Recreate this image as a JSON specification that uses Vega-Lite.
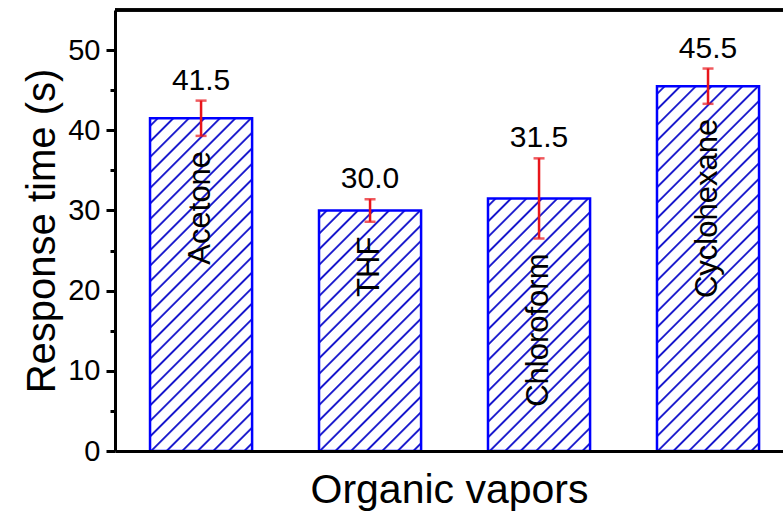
{
  "$schema": "https://vega.github.io/schema/vega-lite/v6.json",
  "width": 668,
  "height": 441,
  "autosize": {"type": "none"},
  "padding": {"left": 115, "top": 10, "right": 0, "bottom": 62},
  "background": "white",
  "config": {
    "view": {"stroke": null},
    "font": "Liberation Sans",
    "axis": {
      "labelFont": "Liberation Sans",
      "titleFont": "Liberation Sans",
      "labelColor": "black",
      "titleColor": "black",
      "titleFontWeight": "normal",
      "domainColor": "black",
      "tickColor": "black",
      "grid": false
    }
  },
  "data": {
    "values": [
      {"vapor": "Acetone", "time": 41.5, "lo": 39.3, "hi": 43.7},
      {"vapor": "THF", "time": 30.0, "lo": 28.6, "hi": 31.4},
      {"vapor": "Chloroform", "time": 31.5, "lo": 26.5, "hi": 36.5},
      {"vapor": "Cyclohexane", "time": 45.5, "lo": 43.3, "hi": 47.7}
    ]
  },
  "layer": [
    {
      "transform": [{"filter": "datum.vapor === 'Acetone'"}],
      "mark": {
        "type": "bar",
        "stroke": "#0000ff",
        "strokeWidth": 2.5,
        "fill": {
          "gradient": "linear", "x1": 0, "y1": 0, "x2": 0.3661, "y2": 1.1943,
          "stops": [
            {"offset": 0.0130, "color": "#fff"}, {"offset": 0.0166, "color": "#1616cc"}, {"offset": 0.0192, "color": "#1616cc"}, {"offset": 0.0228, "color": "#fff"},
            {"offset": 0.0487, "color": "#fff"}, {"offset": 0.0523, "color": "#1616cc"}, {"offset": 0.0549, "color": "#1616cc"}, {"offset": 0.0585, "color": "#fff"},
            {"offset": 0.0844, "color": "#fff"}, {"offset": 0.0880, "color": "#1616cc"}, {"offset": 0.0906, "color": "#1616cc"}, {"offset": 0.0942, "color": "#fff"},
            {"offset": 0.1201, "color": "#fff"}, {"offset": 0.1237, "color": "#1616cc"}, {"offset": 0.1263, "color": "#1616cc"}, {"offset": 0.1299, "color": "#fff"},
            {"offset": 0.1558, "color": "#fff"}, {"offset": 0.1594, "color": "#1616cc"}, {"offset": 0.1620, "color": "#1616cc"}, {"offset": 0.1656, "color": "#fff"},
            {"offset": 0.1915, "color": "#fff"}, {"offset": 0.1951, "color": "#1616cc"}, {"offset": 0.1977, "color": "#1616cc"}, {"offset": 0.2013, "color": "#fff"},
            {"offset": 0.2272, "color": "#fff"}, {"offset": 0.2308, "color": "#1616cc"}, {"offset": 0.2334, "color": "#1616cc"}, {"offset": 0.2370, "color": "#fff"},
            {"offset": 0.2630, "color": "#fff"}, {"offset": 0.2666, "color": "#1616cc"}, {"offset": 0.2692, "color": "#1616cc"}, {"offset": 0.2728, "color": "#fff"},
            {"offset": 0.2987, "color": "#fff"}, {"offset": 0.3023, "color": "#1616cc"}, {"offset": 0.3049, "color": "#1616cc"}, {"offset": 0.3085, "color": "#fff"},
            {"offset": 0.3344, "color": "#fff"}, {"offset": 0.3380, "color": "#1616cc"}, {"offset": 0.3406, "color": "#1616cc"}, {"offset": 0.3442, "color": "#fff"},
            {"offset": 0.3701, "color": "#fff"}, {"offset": 0.3737, "color": "#1616cc"}, {"offset": 0.3763, "color": "#1616cc"}, {"offset": 0.3799, "color": "#fff"},
            {"offset": 0.4058, "color": "#fff"}, {"offset": 0.4094, "color": "#1616cc"}, {"offset": 0.4120, "color": "#1616cc"}, {"offset": 0.4156, "color": "#fff"},
            {"offset": 0.4415, "color": "#fff"}, {"offset": 0.4451, "color": "#1616cc"}, {"offset": 0.4477, "color": "#1616cc"}, {"offset": 0.4513, "color": "#fff"},
            {"offset": 0.4772, "color": "#fff"}, {"offset": 0.4808, "color": "#1616cc"}, {"offset": 0.4834, "color": "#1616cc"}, {"offset": 0.4870, "color": "#fff"},
            {"offset": 0.5130, "color": "#fff"}, {"offset": 0.5166, "color": "#1616cc"}, {"offset": 0.5192, "color": "#1616cc"}, {"offset": 0.5228, "color": "#fff"},
            {"offset": 0.5487, "color": "#fff"}, {"offset": 0.5523, "color": "#1616cc"}, {"offset": 0.5549, "color": "#1616cc"}, {"offset": 0.5585, "color": "#fff"},
            {"offset": 0.5844, "color": "#fff"}, {"offset": 0.5880, "color": "#1616cc"}, {"offset": 0.5906, "color": "#1616cc"}, {"offset": 0.5942, "color": "#fff"},
            {"offset": 0.6201, "color": "#fff"}, {"offset": 0.6237, "color": "#1616cc"}, {"offset": 0.6263, "color": "#1616cc"}, {"offset": 0.6299, "color": "#fff"},
            {"offset": 0.6558, "color": "#fff"}, {"offset": 0.6594, "color": "#1616cc"}, {"offset": 0.6620, "color": "#1616cc"}, {"offset": 0.6656, "color": "#fff"},
            {"offset": 0.6915, "color": "#fff"}, {"offset": 0.6951, "color": "#1616cc"}, {"offset": 0.6977, "color": "#1616cc"}, {"offset": 0.7013, "color": "#fff"},
            {"offset": 0.7272, "color": "#fff"}, {"offset": 0.7308, "color": "#1616cc"}, {"offset": 0.7334, "color": "#1616cc"}, {"offset": 0.7370, "color": "#fff"},
            {"offset": 0.7630, "color": "#fff"}, {"offset": 0.7666, "color": "#1616cc"}, {"offset": 0.7692, "color": "#1616cc"}, {"offset": 0.7728, "color": "#fff"},
            {"offset": 0.7987, "color": "#fff"}, {"offset": 0.8023, "color": "#1616cc"}, {"offset": 0.8049, "color": "#1616cc"}, {"offset": 0.8085, "color": "#fff"},
            {"offset": 0.8344, "color": "#fff"}, {"offset": 0.8380, "color": "#1616cc"}, {"offset": 0.8406, "color": "#1616cc"}, {"offset": 0.8442, "color": "#fff"},
            {"offset": 0.8701, "color": "#fff"}, {"offset": 0.8737, "color": "#1616cc"}, {"offset": 0.8763, "color": "#1616cc"}, {"offset": 0.8799, "color": "#fff"},
            {"offset": 0.9058, "color": "#fff"}, {"offset": 0.9094, "color": "#1616cc"}, {"offset": 0.9120, "color": "#1616cc"}, {"offset": 0.9156, "color": "#fff"},
            {"offset": 0.9415, "color": "#fff"}, {"offset": 0.9451, "color": "#1616cc"}, {"offset": 0.9477, "color": "#1616cc"}, {"offset": 0.9513, "color": "#fff"},
            {"offset": 0.9772, "color": "#fff"}, {"offset": 0.9808, "color": "#1616cc"}, {"offset": 0.9834, "color": "#1616cc"}, {"offset": 0.9870, "color": "#fff"}
          ]
        }
      },
      "encoding": {
        "x": {
          "field": "vapor",
          "type": "nominal",
          "sort": ["Acetone", "THF", "Chloroform", "Cyclohexane"],
          "scale": {"domain": ["Acetone", "THF", "Chloroform", "Cyclohexane"], "paddingInner": 0.396, "paddingOuter": 0.1745, "align": 0.594},
          "axis": {
            "title": "Organic vapors",
            "titleFontSize": 41,
            "titlePadding": 19,
            "labels": false,
            "ticks": false,
            "domainWidth": 3,
            "zindex": 1
          }
        },
        "y": {
          "field": "time",
          "type": "quantitative",
          "scale": {"domain": [0, 55], "nice": false},
          "axis": {
            "title": "Response time (s)",
            "titleFontSize": 40,
            "titlePadding": 5,
            "values": [0, 5, 10, 15, 20, 25, 30, 35, 40, 45, 50],
            "labelExpr": "datum.value % 10 === 0 ? datum.label : ''",
            "labelFontSize": 29,
            "labelPadding": 6,
            "labelOverlap": false,
            "labelFlush": false,
            "tickSize": {"condition": {"test": "datum.value % 10 === 0", "value": 9}, "value": 5},
            "tickWidth": 3,
            "domainWidth": 3
          }
        }
      }
    },
    {
      "transform": [{"filter": "datum.vapor === 'THF'"}],
      "mark": {
        "type": "bar",
        "stroke": "#0000ff",
        "strokeWidth": 2.5,
        "fill": {
          "gradient": "linear", "x1": 0, "y1": 0, "x2": 0.5119, "y2": 1.2070,
          "stops": [
            {"offset": 0.0165, "color": "#fff"}, {"offset": 0.0210, "color": "#1616cc"}, {"offset": 0.0244, "color": "#1616cc"}, {"offset": 0.0289, "color": "#fff"},
            {"offset": 0.0620, "color": "#fff"}, {"offset": 0.0665, "color": "#1616cc"}, {"offset": 0.0699, "color": "#1616cc"}, {"offset": 0.0744, "color": "#fff"},
            {"offset": 0.1074, "color": "#fff"}, {"offset": 0.1119, "color": "#1616cc"}, {"offset": 0.1153, "color": "#1616cc"}, {"offset": 0.1198, "color": "#fff"},
            {"offset": 0.1529, "color": "#fff"}, {"offset": 0.1574, "color": "#1616cc"}, {"offset": 0.1608, "color": "#1616cc"}, {"offset": 0.1653, "color": "#fff"},
            {"offset": 0.1983, "color": "#fff"}, {"offset": 0.2028, "color": "#1616cc"}, {"offset": 0.2062, "color": "#1616cc"}, {"offset": 0.2107, "color": "#fff"},
            {"offset": 0.2438, "color": "#fff"}, {"offset": 0.2483, "color": "#1616cc"}, {"offset": 0.2517, "color": "#1616cc"}, {"offset": 0.2562, "color": "#fff"},
            {"offset": 0.2893, "color": "#fff"}, {"offset": 0.2938, "color": "#1616cc"}, {"offset": 0.2972, "color": "#1616cc"}, {"offset": 0.3017, "color": "#fff"},
            {"offset": 0.3347, "color": "#fff"}, {"offset": 0.3392, "color": "#1616cc"}, {"offset": 0.3426, "color": "#1616cc"}, {"offset": 0.3471, "color": "#fff"},
            {"offset": 0.3802, "color": "#fff"}, {"offset": 0.3847, "color": "#1616cc"}, {"offset": 0.3881, "color": "#1616cc"}, {"offset": 0.3926, "color": "#fff"},
            {"offset": 0.4256, "color": "#fff"}, {"offset": 0.4301, "color": "#1616cc"}, {"offset": 0.4335, "color": "#1616cc"}, {"offset": 0.4380, "color": "#fff"},
            {"offset": 0.4711, "color": "#fff"}, {"offset": 0.4756, "color": "#1616cc"}, {"offset": 0.4790, "color": "#1616cc"}, {"offset": 0.4835, "color": "#fff"},
            {"offset": 0.5165, "color": "#fff"}, {"offset": 0.5210, "color": "#1616cc"}, {"offset": 0.5244, "color": "#1616cc"}, {"offset": 0.5289, "color": "#fff"},
            {"offset": 0.5620, "color": "#fff"}, {"offset": 0.5665, "color": "#1616cc"}, {"offset": 0.5699, "color": "#1616cc"}, {"offset": 0.5744, "color": "#fff"},
            {"offset": 0.6074, "color": "#fff"}, {"offset": 0.6119, "color": "#1616cc"}, {"offset": 0.6153, "color": "#1616cc"}, {"offset": 0.6198, "color": "#fff"},
            {"offset": 0.6529, "color": "#fff"}, {"offset": 0.6574, "color": "#1616cc"}, {"offset": 0.6608, "color": "#1616cc"}, {"offset": 0.6653, "color": "#fff"},
            {"offset": 0.6983, "color": "#fff"}, {"offset": 0.7028, "color": "#1616cc"}, {"offset": 0.7062, "color": "#1616cc"}, {"offset": 0.7107, "color": "#fff"},
            {"offset": 0.7438, "color": "#fff"}, {"offset": 0.7483, "color": "#1616cc"}, {"offset": 0.7517, "color": "#1616cc"}, {"offset": 0.7562, "color": "#fff"},
            {"offset": 0.7893, "color": "#fff"}, {"offset": 0.7938, "color": "#1616cc"}, {"offset": 0.7972, "color": "#1616cc"}, {"offset": 0.8017, "color": "#fff"},
            {"offset": 0.8347, "color": "#fff"}, {"offset": 0.8392, "color": "#1616cc"}, {"offset": 0.8426, "color": "#1616cc"}, {"offset": 0.8471, "color": "#fff"},
            {"offset": 0.8802, "color": "#fff"}, {"offset": 0.8847, "color": "#1616cc"}, {"offset": 0.8881, "color": "#1616cc"}, {"offset": 0.8926, "color": "#fff"},
            {"offset": 0.9256, "color": "#fff"}, {"offset": 0.9301, "color": "#1616cc"}, {"offset": 0.9335, "color": "#1616cc"}, {"offset": 0.9380, "color": "#fff"},
            {"offset": 0.9711, "color": "#fff"}, {"offset": 0.9756, "color": "#1616cc"}, {"offset": 0.9790, "color": "#1616cc"}, {"offset": 0.9835, "color": "#fff"}
          ]
        }
      },
      "encoding": {
        "x": {"field": "vapor", "type": "nominal", "sort": ["Acetone", "THF", "Chloroform", "Cyclohexane"]},
        "y": {"field": "time", "type": "quantitative"}
      }
    },
    {
      "transform": [{"filter": "datum.vapor === 'Chloroform'"}],
      "mark": {
        "type": "bar",
        "stroke": "#0000ff",
        "strokeWidth": 2.5,
        "fill": {
          "gradient": "linear", "x1": 0, "y1": 0, "x2": 0.4874, "y2": 1.2070,
          "stops": [
            {"offset": 0.0157, "color": "#fff"}, {"offset": 0.0201, "color": "#1616cc"}, {"offset": 0.0233, "color": "#1616cc"}, {"offset": 0.0277, "color": "#fff"},
            {"offset": 0.0592, "color": "#fff"}, {"offset": 0.0636, "color": "#1616cc"}, {"offset": 0.0668, "color": "#1616cc"}, {"offset": 0.0712, "color": "#fff"},
            {"offset": 0.1027, "color": "#fff"}, {"offset": 0.1071, "color": "#1616cc"}, {"offset": 0.1103, "color": "#1616cc"}, {"offset": 0.1147, "color": "#fff"},
            {"offset": 0.1462, "color": "#fff"}, {"offset": 0.1506, "color": "#1616cc"}, {"offset": 0.1538, "color": "#1616cc"}, {"offset": 0.1582, "color": "#fff"},
            {"offset": 0.1897, "color": "#fff"}, {"offset": 0.1941, "color": "#1616cc"}, {"offset": 0.1973, "color": "#1616cc"}, {"offset": 0.2017, "color": "#fff"},
            {"offset": 0.2331, "color": "#fff"}, {"offset": 0.2375, "color": "#1616cc"}, {"offset": 0.2407, "color": "#1616cc"}, {"offset": 0.2451, "color": "#fff"},
            {"offset": 0.2766, "color": "#fff"}, {"offset": 0.2810, "color": "#1616cc"}, {"offset": 0.2842, "color": "#1616cc"}, {"offset": 0.2886, "color": "#fff"},
            {"offset": 0.3201, "color": "#fff"}, {"offset": 0.3245, "color": "#1616cc"}, {"offset": 0.3277, "color": "#1616cc"}, {"offset": 0.3321, "color": "#fff"},
            {"offset": 0.3636, "color": "#fff"}, {"offset": 0.3680, "color": "#1616cc"}, {"offset": 0.3712, "color": "#1616cc"}, {"offset": 0.3756, "color": "#fff"},
            {"offset": 0.4070, "color": "#fff"}, {"offset": 0.4114, "color": "#1616cc"}, {"offset": 0.4146, "color": "#1616cc"}, {"offset": 0.4190, "color": "#fff"},
            {"offset": 0.4505, "color": "#fff"}, {"offset": 0.4549, "color": "#1616cc"}, {"offset": 0.4581, "color": "#1616cc"}, {"offset": 0.4625, "color": "#fff"},
            {"offset": 0.4940, "color": "#fff"}, {"offset": 0.4984, "color": "#1616cc"}, {"offset": 0.5016, "color": "#1616cc"}, {"offset": 0.5060, "color": "#fff"},
            {"offset": 0.5375, "color": "#fff"}, {"offset": 0.5419, "color": "#1616cc"}, {"offset": 0.5451, "color": "#1616cc"}, {"offset": 0.5495, "color": "#fff"},
            {"offset": 0.5810, "color": "#fff"}, {"offset": 0.5854, "color": "#1616cc"}, {"offset": 0.5886, "color": "#1616cc"}, {"offset": 0.5930, "color": "#fff"},
            {"offset": 0.6244, "color": "#fff"}, {"offset": 0.6288, "color": "#1616cc"}, {"offset": 0.6320, "color": "#1616cc"}, {"offset": 0.6364, "color": "#fff"},
            {"offset": 0.6679, "color": "#fff"}, {"offset": 0.6723, "color": "#1616cc"}, {"offset": 0.6755, "color": "#1616cc"}, {"offset": 0.6799, "color": "#fff"},
            {"offset": 0.7114, "color": "#fff"}, {"offset": 0.7158, "color": "#1616cc"}, {"offset": 0.7190, "color": "#1616cc"}, {"offset": 0.7234, "color": "#fff"},
            {"offset": 0.7549, "color": "#fff"}, {"offset": 0.7593, "color": "#1616cc"}, {"offset": 0.7625, "color": "#1616cc"}, {"offset": 0.7669, "color": "#fff"},
            {"offset": 0.7983, "color": "#fff"}, {"offset": 0.8027, "color": "#1616cc"}, {"offset": 0.8059, "color": "#1616cc"}, {"offset": 0.8103, "color": "#fff"},
            {"offset": 0.8418, "color": "#fff"}, {"offset": 0.8462, "color": "#1616cc"}, {"offset": 0.8494, "color": "#1616cc"}, {"offset": 0.8538, "color": "#fff"},
            {"offset": 0.8853, "color": "#fff"}, {"offset": 0.8897, "color": "#1616cc"}, {"offset": 0.8929, "color": "#1616cc"}, {"offset": 0.8973, "color": "#fff"},
            {"offset": 0.9288, "color": "#fff"}, {"offset": 0.9332, "color": "#1616cc"}, {"offset": 0.9364, "color": "#1616cc"}, {"offset": 0.9408, "color": "#fff"},
            {"offset": 0.9723, "color": "#fff"}, {"offset": 0.9767, "color": "#1616cc"}, {"offset": 0.9799, "color": "#1616cc"}, {"offset": 0.9843, "color": "#fff"}
          ]
        }
      },
      "encoding": {
        "x": {"field": "vapor", "type": "nominal", "sort": ["Acetone", "THF", "Chloroform", "Cyclohexane"]},
        "y": {"field": "time", "type": "quantitative"}
      }
    },
    {
      "transform": [{"filter": "datum.vapor === 'Cyclohexane'"}],
      "mark": {
        "type": "bar",
        "stroke": "#0000ff",
        "strokeWidth": 2.5,
        "fill": {
          "gradient": "linear", "x1": 0, "y1": 0, "x2": 0.3318, "y2": 1.1868,
          "stops": [
            {"offset": 0.0122, "color": "#fff"}, {"offset": 0.0155, "color": "#1616cc"}, {"offset": 0.0179, "color": "#1616cc"}, {"offset": 0.0212, "color": "#fff"},
            {"offset": 0.0455, "color": "#fff"}, {"offset": 0.0488, "color": "#1616cc"}, {"offset": 0.0512, "color": "#1616cc"}, {"offset": 0.0545, "color": "#fff"},
            {"offset": 0.0788, "color": "#fff"}, {"offset": 0.0821, "color": "#1616cc"}, {"offset": 0.0845, "color": "#1616cc"}, {"offset": 0.0878, "color": "#fff"},
            {"offset": 0.1122, "color": "#fff"}, {"offset": 0.1155, "color": "#1616cc"}, {"offset": 0.1179, "color": "#1616cc"}, {"offset": 0.1212, "color": "#fff"},
            {"offset": 0.1455, "color": "#fff"}, {"offset": 0.1488, "color": "#1616cc"}, {"offset": 0.1512, "color": "#1616cc"}, {"offset": 0.1545, "color": "#fff"},
            {"offset": 0.1788, "color": "#fff"}, {"offset": 0.1821, "color": "#1616cc"}, {"offset": 0.1845, "color": "#1616cc"}, {"offset": 0.1878, "color": "#fff"},
            {"offset": 0.2122, "color": "#fff"}, {"offset": 0.2155, "color": "#1616cc"}, {"offset": 0.2179, "color": "#1616cc"}, {"offset": 0.2212, "color": "#fff"},
            {"offset": 0.2455, "color": "#fff"}, {"offset": 0.2488, "color": "#1616cc"}, {"offset": 0.2512, "color": "#1616cc"}, {"offset": 0.2545, "color": "#fff"},
            {"offset": 0.2788, "color": "#fff"}, {"offset": 0.2821, "color": "#1616cc"}, {"offset": 0.2845, "color": "#1616cc"}, {"offset": 0.2878, "color": "#fff"},
            {"offset": 0.3122, "color": "#fff"}, {"offset": 0.3155, "color": "#1616cc"}, {"offset": 0.3179, "color": "#1616cc"}, {"offset": 0.3212, "color": "#fff"},
            {"offset": 0.3455, "color": "#fff"}, {"offset": 0.3488, "color": "#1616cc"}, {"offset": 0.3512, "color": "#1616cc"}, {"offset": 0.3545, "color": "#fff"},
            {"offset": 0.3788, "color": "#fff"}, {"offset": 0.3821, "color": "#1616cc"}, {"offset": 0.3845, "color": "#1616cc"}, {"offset": 0.3878, "color": "#fff"},
            {"offset": 0.4122, "color": "#fff"}, {"offset": 0.4155, "color": "#1616cc"}, {"offset": 0.4179, "color": "#1616cc"}, {"offset": 0.4212, "color": "#fff"},
            {"offset": 0.4455, "color": "#fff"}, {"offset": 0.4488, "color": "#1616cc"}, {"offset": 0.4512, "color": "#1616cc"}, {"offset": 0.4545, "color": "#fff"},
            {"offset": 0.4788, "color": "#fff"}, {"offset": 0.4821, "color": "#1616cc"}, {"offset": 0.4845, "color": "#1616cc"}, {"offset": 0.4878, "color": "#fff"},
            {"offset": 0.5122, "color": "#fff"}, {"offset": 0.5155, "color": "#1616cc"}, {"offset": 0.5179, "color": "#1616cc"}, {"offset": 0.5212, "color": "#fff"},
            {"offset": 0.5455, "color": "#fff"}, {"offset": 0.5488, "color": "#1616cc"}, {"offset": 0.5512, "color": "#1616cc"}, {"offset": 0.5545, "color": "#fff"},
            {"offset": 0.5788, "color": "#fff"}, {"offset": 0.5821, "color": "#1616cc"}, {"offset": 0.5845, "color": "#1616cc"}, {"offset": 0.5878, "color": "#fff"},
            {"offset": 0.6122, "color": "#fff"}, {"offset": 0.6155, "color": "#1616cc"}, {"offset": 0.6179, "color": "#1616cc"}, {"offset": 0.6212, "color": "#fff"},
            {"offset": 0.6455, "color": "#fff"}, {"offset": 0.6488, "color": "#1616cc"}, {"offset": 0.6512, "color": "#1616cc"}, {"offset": 0.6545, "color": "#fff"},
            {"offset": 0.6788, "color": "#fff"}, {"offset": 0.6821, "color": "#1616cc"}, {"offset": 0.6845, "color": "#1616cc"}, {"offset": 0.6878, "color": "#fff"},
            {"offset": 0.7122, "color": "#fff"}, {"offset": 0.7155, "color": "#1616cc"}, {"offset": 0.7179, "color": "#1616cc"}, {"offset": 0.7212, "color": "#fff"},
            {"offset": 0.7455, "color": "#fff"}, {"offset": 0.7488, "color": "#1616cc"}, {"offset": 0.7512, "color": "#1616cc"}, {"offset": 0.7545, "color": "#fff"},
            {"offset": 0.7788, "color": "#fff"}, {"offset": 0.7821, "color": "#1616cc"}, {"offset": 0.7845, "color": "#1616cc"}, {"offset": 0.7878, "color": "#fff"},
            {"offset": 0.8122, "color": "#fff"}, {"offset": 0.8155, "color": "#1616cc"}, {"offset": 0.8179, "color": "#1616cc"}, {"offset": 0.8212, "color": "#fff"},
            {"offset": 0.8455, "color": "#fff"}, {"offset": 0.8488, "color": "#1616cc"}, {"offset": 0.8512, "color": "#1616cc"}, {"offset": 0.8545, "color": "#fff"},
            {"offset": 0.8788, "color": "#fff"}, {"offset": 0.8821, "color": "#1616cc"}, {"offset": 0.8845, "color": "#1616cc"}, {"offset": 0.8878, "color": "#fff"},
            {"offset": 0.9122, "color": "#fff"}, {"offset": 0.9155, "color": "#1616cc"}, {"offset": 0.9179, "color": "#1616cc"}, {"offset": 0.9212, "color": "#fff"},
            {"offset": 0.9455, "color": "#fff"}, {"offset": 0.9488, "color": "#1616cc"}, {"offset": 0.9512, "color": "#1616cc"}, {"offset": 0.9545, "color": "#fff"},
            {"offset": 0.9788, "color": "#fff"}, {"offset": 0.9821, "color": "#1616cc"}, {"offset": 0.9845, "color": "#1616cc"}, {"offset": 0.9878, "color": "#fff"}
          ]
        }
      },
      "encoding": {
        "x": {"field": "vapor", "type": "nominal", "sort": ["Acetone", "THF", "Chloroform", "Cyclohexane"]},
        "y": {"field": "time", "type": "quantitative"}
      }
    },
    {
      "mark": {
        "type": "errorbar",
        "color": "#e8151b",
        "thickness": 2.5,
        "ticks": {"size": 11, "thickness": 2.5, "color": "#e8151b"}
      },
      "encoding": {
        "x": {"field": "vapor", "type": "nominal", "sort": ["Acetone", "THF", "Chloroform", "Cyclohexane"]},
        "y": {"field": "lo", "type": "quantitative", "title": "Response time (s)"},
        "y2": {"field": "hi"}
      }
    },
    {
      "mark": {"type": "text", "fontSize": 30, "baseline": "alphabetic", "dy": -11, "color": "black"},
      "encoding": {
        "x": {"field": "vapor", "type": "nominal", "sort": ["Acetone", "THF", "Chloroform", "Cyclohexane"]},
        "y": {"field": "hi", "type": "quantitative", "title": "Response time (s)"},
        "text": {"field": "time", "type": "quantitative", "format": ".1f"}
      }
    },
    {
      "mark": {"type": "text", "fontSize": 31, "angle": 270, "align": "right", "baseline": "middle", "dx": -15, "color": "black"},
      "encoding": {
        "x": {"field": "vapor", "type": "nominal", "sort": ["Acetone", "THF", "Chloroform", "Cyclohexane"]},
        "y": {"field": "lo", "type": "quantitative", "title": "Response time (s)"},
        "text": {"field": "vapor", "type": "nominal"}
      }
    },
    {
      "mark": {"type": "rule", "color": "black", "strokeWidth": 3},
      "encoding": {"y": {"datum": 55, "type": "quantitative", "title": "Response time (s)"}}
    }
  ]
}
